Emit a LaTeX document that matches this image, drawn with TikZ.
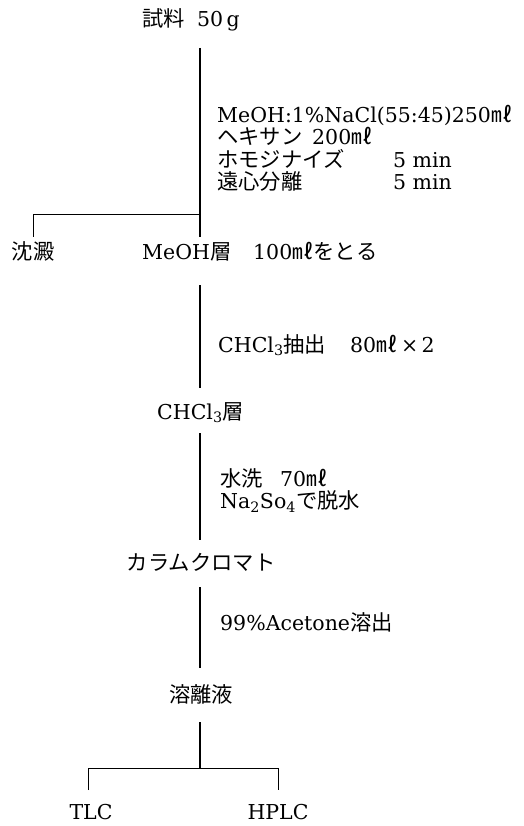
\documentclass[tikz,border=0pt]{standalone}
\usepackage{fontspec}
\setmainfont{DejaVu Serif}
\newfontfamily\jpfont[Scale=1.04]{Noto Sans CJK JP}
\newcommand\jt[1]{{\jpfont #1}}
\newcommand\cell[2]{\makebox[#1][l]{#2}}
\begin{document}
\begin{tikzpicture}[x=1pt,y=1pt,
  lbl/.style={inner sep=0pt, anchor=base west, font=\fontsize{20.5}{20}\selectfont},
  clbl/.style={inner sep=0pt, anchor=base, font=\fontsize{20.5}{20}\selectfont},
  blk/.style={inner sep=0pt, anchor=north west, align=left, font=\fontsize{20.5}{22.5}\selectfont},
  flow/.style={line width=1.3pt, black},
  br/.style={line width=1.0pt, black}]
\useasboundingbox (0,0) rectangle (523,-826);
% texts
\node[lbl] (sample) at (142,-27) {\cell{55pt}{\jt{試料}}50\,g};
\node[blk] (cond1) at (217,-105) {MeOH:1\%NaCl(55:45)250\jt{㎖}\\
\cell{95pt}{\jt{ヘキサン}}200\jt{㎖}\\
\cell{176pt}{\jt{ホモジナイズ}}5 min\\
\cell{176pt}{\jt{遠心分離}}5 min};
\node[clbl] (ppt) at (33,-259) {\jt{沈澱}};
\node[lbl] (meoh) at (142,-259) {\cell{111pt}{MeOH\jt{層}}100\jt{㎖をとる}};
\node[lbl] (cond2) at (218,-352) {\cell{132pt}{CHCl\textsubscript{3}\jt{抽出}}80\jt{㎖}\,×\,2};
\node[lbl] (chcl) at (157,-419) {CHCl\textsubscript{3}\jt{層}};
\node[blk] (cond3) at (220,-468) {\cell{60pt}{\jt{水洗}}70\jt{㎖}\\
Na\textsubscript{2}So\textsubscript{4}\jt{で脱水}};
\node[clbl] (column) at (201,-570) {\jt{カラムクロマト}};
\node[lbl] (cond4) at (220,-630) {99\%Acetone\jt{溶出}};
\node[clbl] (eluate) at (201,-702) {\jt{溶離液}};
\node[clbl] (tlc) at (91,-819) {TLC};
\node[clbl] (hplc) at (278,-819) {HPLC};
% line end coordinates
\coordinate (a1) at (200,-48);
\coordinate (a2) at (200,-237);
\coordinate (b1) at (200,-215);
\coordinate (b2) at (33,-215);
\coordinate (b3) at (33,-237);
\coordinate (c1) at (200,-285);
\coordinate (c2) at (200,-388);
\coordinate (d1) at (200,-433);
\coordinate (d2) at (200,-540);
\coordinate (e1) at (200,-587);
\coordinate (e2) at (200,-668);
\coordinate (f1) at (200,-722);
\coordinate (f2) at (200,-768);
\coordinate (g1) at (88,-768);
\coordinate (g2) at (88,-790);
\coordinate (h1) at (278,-768);
\coordinate (h2) at (278,-790);
% connectors
\draw[flow] (a1) -- (a2);
\draw[br] (b1) -- (b2) -- (b3);
\draw[flow] (c1) -- (c2);
\draw[flow] (d1) -- (d2);
\draw[flow] (e1) -- (e2);
\draw[flow] (f1) -- (f2);
\draw[br] (g2) -- (g1) -- (h1) -- (h2);
\end{tikzpicture}
\end{document}
